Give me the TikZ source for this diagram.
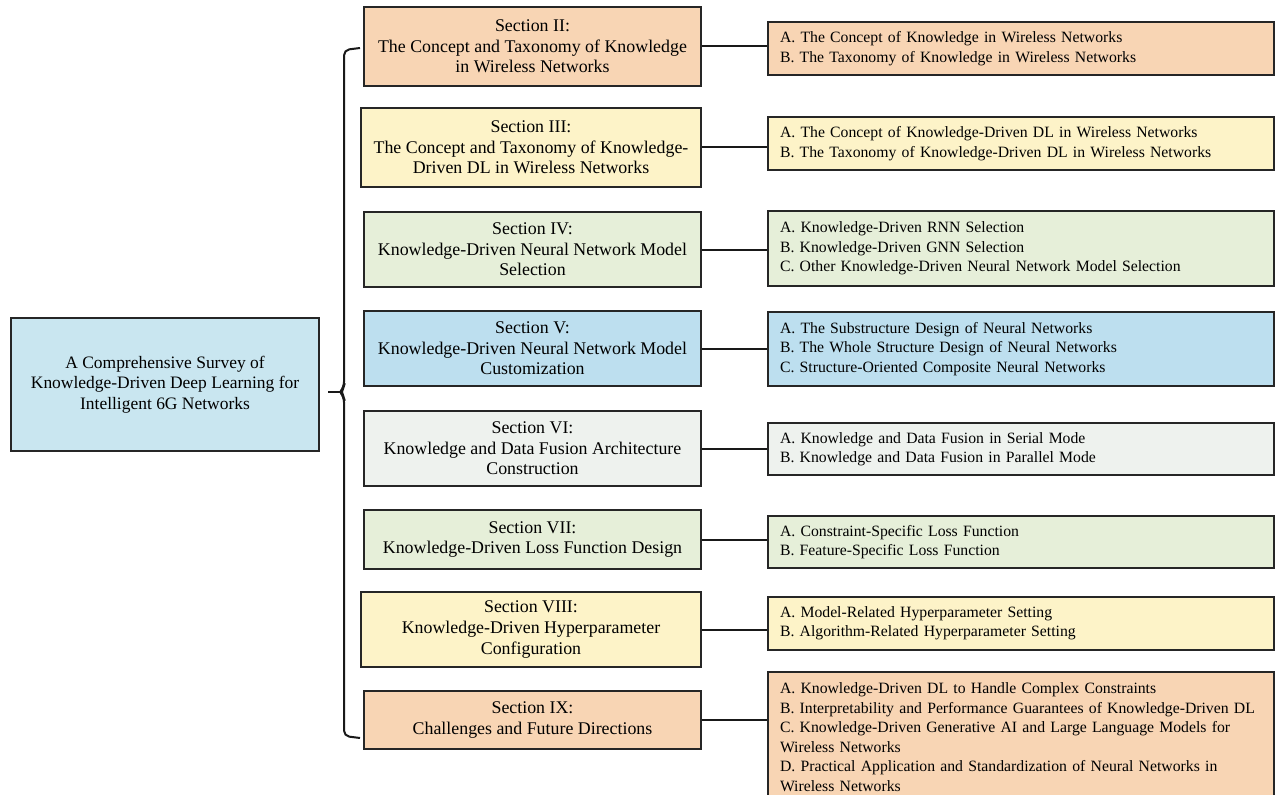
\documentclass[tikz,border=0pt]{standalone}
\usepackage{fontspec}
\setmainfont{Liberation Serif}
\definecolor{cpeach}{HTML}{F8D5B4}
\definecolor{cyellow}{HTML}{FDF3C8}
\definecolor{cgreen}{HTML}{E6EFD9}
\definecolor{cblue}{HTML}{BDDFEF}
\definecolor{cgrey}{HTML}{EEF2EE}
\definecolor{cmain}{HTML}{C9E6F0}
\begin{document}
\begin{tikzpicture}[x=0.75pt,y=-0.75pt,
  box/.style={draw=black!85,line width=1.5pt,align=center,inner sep=0pt,
    font=\fontsize{13.4}{15.4}\selectfont},
  secbox/.style={box,minimum width=337*0.75pt},
  subbox/.style={box,align=left,text width=482*0.75pt,minimum width=506*0.75pt,
    inner xsep=9pt,font=\fontsize{11.8}{14.6}\selectfont},
  link/.style={line width=1.5pt,black!90}]
\useasboundingbox (0,0) rectangle (1281,795);

\node[box,fill=cmain,minimum width=308*0.75pt,minimum height=133*0.75pt,
  font=\fontsize{13.1}{15.4}\selectfont] (main) at (165,384.5)
  {A Comprehensive Survey of\\Knowledge-Driven Deep Learning for\\Intelligent 6G Networks};

\node[secbox,fill=cpeach,minimum height=79*0.75pt] (s2) at (532.5,46.5)
  {Section II:\\The Concept and Taxonomy of Knowledge\\in Wireless Networks};
\node[secbox,fill=cyellow,minimum width=340*0.75pt,minimum height=79*0.75pt] (s3) at (531,147.5)
  {Section III:\\The Concept and Taxonomy of Knowledge-\\Driven DL in Wireless Networks};
\node[secbox,fill=cgreen,minimum height=75*0.75pt] (s4) at (532.5,249.5)
  {Section IV:\\Knowledge-Driven Neural Network Model\\Selection};
\node[secbox,fill=cblue,minimum height=75*0.75pt] (s5) at (532.5,348.5)
  {Section V:\\Knowledge-Driven Neural Network Model\\Customization};
\node[secbox,fill=cgrey,minimum height=75*0.75pt] (s6) at (532.5,448.5)
  {Section VI:\\Knowledge and Data Fusion Architecture\\Construction};
\node[secbox,fill=cgreen,minimum height=59*0.75pt] (s7) at (532.5,539.5)
  {Section VII:\\Knowledge-Driven Loss Function Design};
\node[secbox,fill=cyellow,minimum width=340*0.75pt,minimum height=75*0.75pt] (s8) at (531,629.5)
  {Section VIII:\\Knowledge-Driven Hyperparameter\\Configuration};
\node[secbox,fill=cpeach,minimum height=58*0.75pt] (s9) at (532.5,720)
  {Section IX:\\Challenges and Future Directions};

\node[subbox,fill=cpeach,minimum height=53*0.75pt] (r2) at (1021,48.5)
  {A. The Concept of Knowledge in Wireless Networks\\B. The Taxonomy of Knowledge in Wireless Networks};
\node[subbox,fill=cyellow,minimum height=53*0.75pt] (r3) at (1021,143.5)
  {A. The Concept of Knowledge-Driven DL in Wireless Networks\\B. The Taxonomy of Knowledge-Driven DL in Wireless Networks};
\node[subbox,fill=cgreen,minimum height=75*0.75pt] (r4) at (1021,248.5)
  {A. Knowledge-Driven RNN Selection\\B. Knowledge-Driven GNN Selection\\C. Other Knowledge-Driven Neural Network Model Selection};
\node[subbox,fill=cblue,minimum height=74*0.75pt] (r5) at (1021,349)
  {A. The Substructure Design of Neural Networks\\B. The Whole Structure Design of Neural Networks\\C. Structure-Oriented Composite Neural Networks};
\node[subbox,fill=cgrey,minimum height=52*0.75pt] (r6) at (1021,449)
  {A. Knowledge and Data Fusion in Serial Mode\\B. Knowledge and Data Fusion in Parallel Mode};
\node[subbox,fill=cgreen,minimum height=52*0.75pt] (r7) at (1021,542)
  {A. Constraint-Specific Loss Function\\B. Feature-Specific Loss Function};
\node[subbox,fill=cyellow,minimum height=53*0.75pt] (r8) at (1021,623.5)
  {A. Model-Related Hyperparameter Setting\\B. Algorithm-Related Hyperparameter Setting};
\node[subbox,fill=cpeach,minimum height=130*0.75pt] (r9) at (1021,737)
  {A. Knowledge-Driven DL to Handle Complex Constraints\\B. Interpretability and Performance Guarantees of Knowledge-Driven DL\\C. Knowledge-Driven Generative AI and Large Language Models for\\Wireless Networks\\D. Practical Application and Standardization of Neural Networks in\\Wireless Networks};

\foreach \i in {2,...,9}{
  \draw[link] (s\i.east) -- (s\i.east -| r\i.west);
}

\coordinate (btop) at (360,48);
\coordinate (bbot) at (360,738);
\coordinate (btip) at (328,392);
\draw[link,rounded corners=4pt] (btop) -- (344,50) -- (344,387) -- (340,392) -- (344,397) -- (344,736) -- (bbot);
\draw[link] (btip) -- (341,392);
\end{tikzpicture}
\end{document}
